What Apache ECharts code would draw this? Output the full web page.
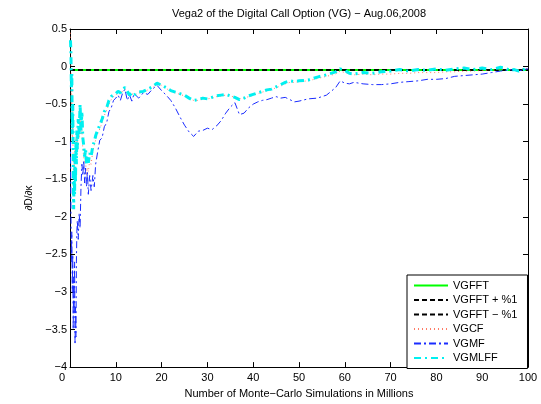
<!DOCTYPE html>
<html>
<head>
<meta charset="utf-8">
<script src="https://cdn.jsdelivr.net/npm/echarts@6/dist/echarts.min.js"></script>
<style>
  html, body { margin: 0; padding: 0; background: #fff; }
  #chart { width: 541px; height: 404px; }
</style>
</head>
<body>
<div id="chart"></div>
<script>
// Number of simulations (millions) at which each estimate was recorded
const sims = [
  0.1, 0.2, 0.3, 0.4, 0.5, 0.6, 0.7, 0.8, 0.9, 1.0,
  1.1, 1.2, 1.3, 1.4, 1.5, 1.6, 1.8, 2.0, 2.2, 2.4,
  2.6, 2.8, 3.0, 3.2, 3.4, 3.6, 3.8, 4.0, 4.3, 4.6,
  5.0, 5.3, 5.6, 6.0, 6.5, 7.0, 7.5, 8.0, 8.5, 9.0,
  9.5, 10, 10.5, 11, 11.5, 12, 12.5, 13, 13.5, 14,
  15, 16, 17, 18, 19, 20, 21, 22, 23, 24,
  25, 26, 27, 28, 29, 30, 31, 32, 33, 34,
  35, 36, 37, 38, 39, 40, 41, 42, 43, 44,
  45, 46, 47, 48, 49, 50, 52, 54, 56, 58,
  59, 60, 61, 62, 64, 66, 68, 70, 72, 74,
  76, 78, 80, 82, 84, 86, 88, 90, 92, 94,
  95, 96, 97, 98, 99, 100
];

// FFT reference level and its +/- 1% band
const fftSims = [0, 100];
const vgfft   = [-0.045, -0.045];
const vgfftUp = [-0.04545, -0.04545];
const vgfftDn = [-0.04455, -0.04455];

// Monte-Carlo estimates
const vgcf = [
  0.45, 0.0, -0.5, -0.3, -1.0, -0.8, -1.3, -1.5, -1.2, -1.45,
  -1.1, -1.3, -0.95, -1.15, -0.9, -1.0, -0.8, -0.95, -0.7, -0.9,
  -0.85, -1.1, -1.2, -1.3, -1.25, -1.45, -1.35, -1.4, -1.25, -1.3,
  -1.12, -1.05, -0.98, -0.9, -0.83, -0.75, -0.65, -0.58, -0.5, -0.44,
  -0.4, -0.38, -0.35, -0.37, -0.32, -0.3, -0.35, -0.39, -0.36, -0.38,
  -0.35, -0.34, -0.31, -0.28, -0.23, -0.25, -0.29, -0.33, -0.35, -0.37,
  -0.39, -0.43, -0.45, -0.45, -0.43, -0.43, -0.42, -0.4, -0.39, -0.38,
  -0.39, -0.41, -0.43, -0.42, -0.4, -0.38, -0.36, -0.34, -0.32, -0.31,
  -0.28, -0.26, -0.23, -0.21, -0.21, -0.2, -0.19, -0.16, -0.13, -0.1,
  -0.06, -0.08, -0.1, -0.11, -0.1, -0.11, -0.1, -0.1, -0.09, -0.09,
  -0.08, -0.08, -0.08, -0.07, -0.07, -0.06, -0.06, -0.05, -0.05, -0.04,
  -0.04, -0.04, -0.04, -0.04, -0.03, -0.03
];

const vgmf = [
  -1.0, -1.9, -2.6, -2.2, -3.0, -2.5, -3.5, -2.8, -3.3, -2.6,
  -3.7, -3.2, -3.6, -2.6, -2.2, -2.05, -2.3, -1.95, -2.15, -1.6,
  -1.3, -1.45, -1.25, -1.55, -1.35, -1.6, -1.4, -1.7, -1.45, -1.65,
  -1.45, -1.6, -1.3, -1.15, -0.98, -0.95, -0.8, -0.75, -0.6, -0.55,
  -0.45, -0.42, -0.38, -0.45, -0.35, -0.3, -0.45, -0.38, -0.46, -0.36,
  -0.42, -0.35, -0.37, -0.3, -0.25, -0.32, -0.38, -0.45, -0.55, -0.67,
  -0.78, -0.87, -0.93, -0.86, -0.85, -0.82, -0.84, -0.79, -0.72, -0.62,
  -0.54, -0.48, -0.64, -0.62, -0.55, -0.5, -0.47, -0.45, -0.44, -0.42,
  -0.4, -0.42, -0.41, -0.44, -0.47, -0.46, -0.43, -0.42, -0.38, -0.28,
  -0.19, -0.22, -0.23, -0.21, -0.23, -0.24, -0.24, -0.23, -0.21, -0.2,
  -0.19, -0.17, -0.17, -0.16, -0.13, -0.12, -0.11, -0.1, -0.08, -0.06,
  -0.05, -0.04, -0.05, -0.06, -0.04, -0.03
];

const vgmlff = [
  0.35, 0.2, -0.3, -0.1, -0.9, -0.5, -1.2, -1.9, -1.4, -1.7,
  -1.2, -1.55, -1.0, -1.3, -0.85, -1.1, -0.7, -0.9, -0.5, -0.85,
  -0.6, -0.95, -1.05, -1.2, -1.1, -1.3, -1.22, -1.28, -1.15, -1.2,
  -1.05, -1.0, -0.92, -0.85, -0.78, -0.7, -0.6, -0.55, -0.45, -0.4,
  -0.38, -0.36, -0.33, -0.35, -0.3, -0.28, -0.33, -0.38, -0.35, -0.38,
  -0.34, -0.33, -0.3, -0.27, -0.22, -0.25, -0.28, -0.32, -0.34, -0.36,
  -0.38, -0.42, -0.45, -0.44, -0.42, -0.43, -0.41, -0.39, -0.38, -0.37,
  -0.39, -0.41, -0.44, -0.42, -0.39, -0.37, -0.35, -0.33, -0.31, -0.3,
  -0.27, -0.24, -0.21, -0.19, -0.2, -0.19, -0.18, -0.14, -0.11, -0.07,
  -0.03, -0.05, -0.09, -0.1, -0.08, -0.09, -0.07, -0.06, -0.04, -0.06,
  -0.04, -0.05, -0.03, -0.05, -0.03, -0.02, -0.04, -0.02, -0.04, -0.01,
  -0.02, -0.05, -0.04, -0.06, -0.04, -0.03
];

const seriesNames = ['VGFFT', 'VGFFT + %1', 'VGFFT \u2212 %1', 'VGCF', 'VGMF', 'VGMLFF'];

const pairs = (xs, ys) => xs.map((x, i) => [x, ys[i]]);
const minus = v => String(v).replace('-', '\u2212');
const FONT = '"Liberation Sans", Arial, Helvetica, sans-serif';

const chart = echarts.init(document.getElementById('chart'), null, { renderer: 'canvas' });

const tickStyle = { show: true, inside: true, length: 5, lineStyle: { color: '#000', width: 1 } };
const lineAxis = { show: true, onZero: false, lineStyle: { color: '#000', width: 1 } };

function lineSeries(name, xs, ys, style, z) {
  return {
    name, type: 'line', data: pairs(xs, ys),
    showSymbol: false, symbol: 'none', silent: true, z,
    itemStyle: { color: style.color },
    lineStyle: style
  };
}

chart.setOption({
  animation: false,
  backgroundColor: '#fff',
  textStyle: { fontFamily: FONT, color: '#000' },
  grid: { left: 70, top: 29, width: 458, height: 342, containLabel: false },
  xAxis: [
    {
      type: 'value', position: 'bottom', min: 0, max: 100, interval: 10,
      axisLine: lineAxis, axisTick: tickStyle, splitLine: { show: false },
      axisLabel: {
        color: '#000', fontSize: 11, margin: 5, fontFamily: FONT,
        formatter: v => (v === 0 ? '{z|0}' : String(v)),
        rich: { z: { fontSize: 11, fontFamily: FONT, color: '#000', padding: [0, 16, 0, 0] } }
      },
      name: 'Number of Monte\u2212Carlo Simulations in Millions',
      nameLocation: 'middle', nameGap: 18,
      nameTextStyle: { color: '#000', fontSize: 11, fontFamily: FONT }
    },
    {
      type: 'value', position: 'top', min: 0, max: 100, interval: 10,
      axisLine: lineAxis, axisTick: tickStyle, splitLine: { show: false },
      axisLabel: { show: false },
      name: 'Vega2 of the Digital Call Option (VG) \u2212 Aug.06,2008',
      nameLocation: 'middle', nameGap: 10,
      nameTextStyle: { color: '#000', fontSize: 11, fontFamily: FONT }
    }
  ],
  yAxis: [
    {
      type: 'value', position: 'left', min: -4, max: 0.5, interval: 0.5,
      axisLine: lineAxis, axisTick: tickStyle, splitLine: { show: false },
      axisLabel: { color: '#000', fontSize: 11, margin: 3, fontFamily: FONT, formatter: minus },
      name: '\u2202D/\u2202\u03BA', nameLocation: 'middle', nameGap: 36, nameRotate: 90,
      nameTextStyle: { color: '#000', fontSize: 10, fontFamily: FONT }
    },
    {
      type: 'value', position: 'right', min: -4, max: 0.5, interval: 0.5,
      axisLine: lineAxis, axisTick: tickStyle, splitLine: { show: false },
      axisLabel: { show: false }
    }
  ],
  legend: {
    data: seriesNames,
    orient: 'vertical', left: 407, top: 275,
    itemWidth: 34, itemHeight: 10, itemGap: 3.5,
    padding: [5, 10, 5, 6],
    borderColor: '#000', borderWidth: 1, backgroundColor: '#fff',
    itemStyle: { opacity: 0, borderWidth: 0 },
    textStyle: { color: '#000', fontSize: 11, fontFamily: FONT },
    selectedMode: false
  },
  series: [
    lineSeries(seriesNames[0], fftSims, vgfft, { color: '#00ff00', width: 2, type: 'solid' }, 2),
    lineSeries(seriesNames[1], fftSims, vgfftUp, { color: '#000', width: 1.5, type: [5, 3] }, 3),
    lineSeries(seriesNames[2], fftSims, vgfftDn, { color: '#000', width: 1.5, type: [5, 3] }, 3),
    lineSeries(seriesNames[3], sims, vgcf, { color: '#ff5a40', width: 1, type: [1, 3], opacity: 0.8 }, 4),
    lineSeries(seriesNames[4], sims, vgmf, { color: '#1a2cff', width: 1, type: [7, 3, 2, 3] }, 5),
    lineSeries(seriesNames[5], sims, vgmlff, { color: '#00f0f0', width: 3, type: [7, 4, 2, 4] }, 6)
  ]
});
</script>
</body>
</html>
